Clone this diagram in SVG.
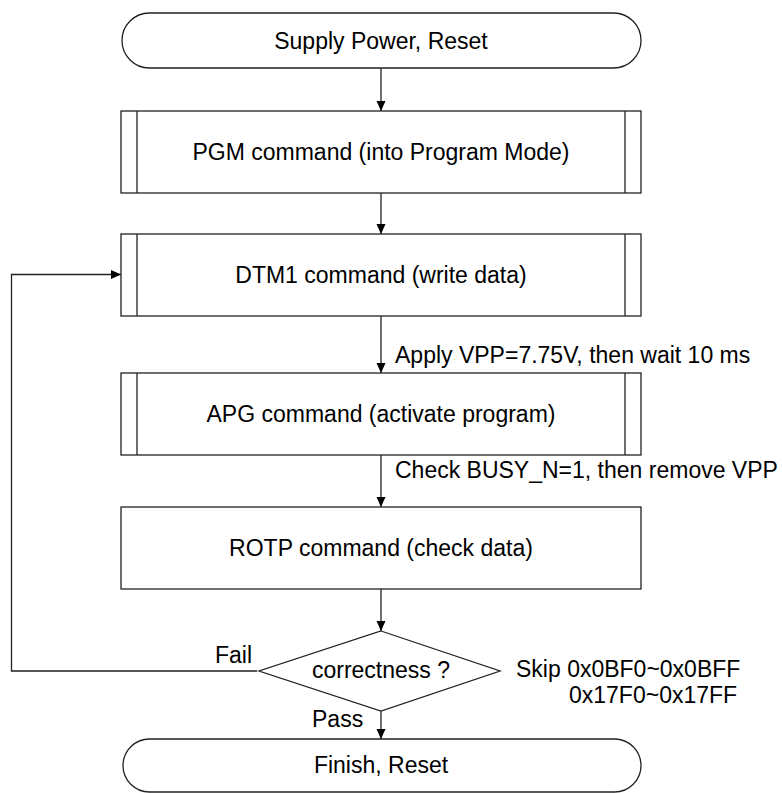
<svg xmlns="http://www.w3.org/2000/svg" width="782" height="793" viewBox="0 0 782 793">
<style>
.s{fill:#fff;stroke:#222;stroke-width:1.3}
.l{fill:none;stroke:#222;stroke-width:1.3}
text{font-family:"Liberation Sans",Arial,sans-serif;font-size:23px;fill:#000}
.c{text-anchor:middle}
</style>
<defs>
<marker id="ah" viewBox="0 0 10 10" refX="10" refY="5" markerWidth="10" markerHeight="10" markerUnits="userSpaceOnUse" orient="auto">
<path d="M0,0.5 L10,5 L0,9.5 Z" fill="#000"/>
</marker>
</defs>
<rect width="782" height="793" fill="#fff"/>
<g id="connectors">
<line class="l" x1="381" y1="68" x2="381" y2="111" marker-end="url(#ah)"/>
<line class="l" x1="381" y1="193" x2="381" y2="234" marker-end="url(#ah)"/>
<line class="l" x1="381" y1="316" x2="381" y2="373" marker-end="url(#ah)"/>
<line class="l" x1="381" y1="455" x2="381" y2="507" marker-end="url(#ah)"/>
<line class="l" x1="381" y1="589" x2="381" y2="631" marker-end="url(#ah)"/>
<line class="l" x1="381" y1="711" x2="381" y2="739" marker-end="url(#ah)"/>
<polyline class="l" points="257,671 11.5,671 11.5,274.5 121,274.5" marker-end="url(#ah)"/>
<text x="395" y="363">Apply VPP=7.75V, then wait 10 ms</text>
<text x="395" y="478">Check BUSY_N=1, then remove VPP</text>
<text x="215" y="663">Fail</text>
<text x="312" y="727">Pass</text>
<text x="516" y="677">Skip 0x0BF0~0x0BFF</text>
<text x="569" y="703">0x17F0~0x17FF</text>
</g>
<g id="start">
<rect class="s" x="122" y="13" width="519" height="55" rx="27.5" ry="27.5"/>
<text class="c" x="381" y="48.5">Supply Power, Reset</text>
</g>
<g id="pgm">
<rect class="s" x="121" y="111" width="520" height="82"/>
<line class="l" x1="137" y1="111" x2="137" y2="193"/>
<line class="l" x1="625" y1="111" x2="625" y2="193"/>
<text class="c" x="381" y="160">PGM command (into Program Mode)</text>
</g>
<g id="dtm1">
<rect class="s" x="121" y="234" width="520" height="82"/>
<line class="l" x1="137" y1="234" x2="137" y2="316"/>
<line class="l" x1="625" y1="234" x2="625" y2="316"/>
<text class="c" x="381" y="283">DTM1 command (write data)</text>
</g>
<g id="apg">
<rect class="s" x="121" y="373" width="520" height="82"/>
<line class="l" x1="137" y1="373" x2="137" y2="455"/>
<line class="l" x1="625" y1="373" x2="625" y2="455"/>
<text class="c" x="381" y="422">APG command (activate program)</text>
</g>
<g id="rotp">
<rect class="s" x="121" y="507" width="520" height="82"/>
<text class="c" x="381" y="556">ROTP command (check data)</text>
</g>
<g id="decision">
<polygon class="s" points="381,631 500,671 381,711 259,671"/>
<text class="c" x="381" y="678">correctness ?</text>
</g>
<g id="finish">
<rect class="s" x="123" y="739" width="518" height="53" rx="26.5" ry="26.5"/>
<text class="c" x="381" y="773">Finish, Reset</text>
</g>
</svg>
